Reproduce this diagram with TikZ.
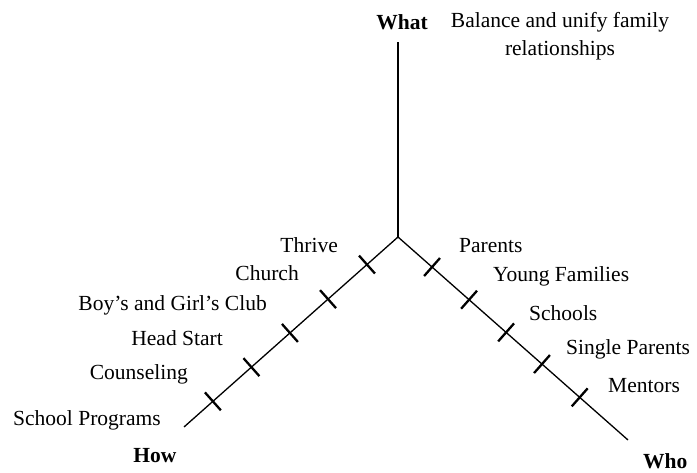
\documentclass[tikz,border=0pt]{standalone}
\usepackage{fontspec}
\setmainfont{Liberation Serif}
\usepackage{tikz}
\usetikzlibrary{positioning, calc}

\tikzset{
  axis/.style={line width=1.3bp},
  tickmark/.style={line width=2.3bp},
  lbl/.style={inner sep=0pt, font=\fontsize{21.6}{28}\selectfont},
  head/.style={lbl, font=\fontsize{21.6}{28}\selectfont\bfseries}
}

\begin{document}
\begin{tikzpicture}[x=1bp, y=1bp]
  \useasboundingbox (0,0) rectangle (697,473);

  % Axes
  \coordinate (o) at (398,236);
  \coordinate (top) at (398,431);
  \coordinate (howend) at (184,46);
  \coordinate (whoend) at (628,33);
  \draw[axis] (o) -- (top);
  \draw[axis] (o) -- (howend);
  \draw[axis] (o) -- (whoend);

  % Tick positions
  \path (o) -- (howend) coordinate[pos=0.145] (h1) coordinate[pos=0.327] (h2)
    coordinate[pos=0.505] (h3) coordinate[pos=0.685] (h4) coordinate[pos=0.865] (h5);
  \path (o) -- (whoend) coordinate[pos=0.148] (w1) coordinate[pos=0.309] (w2)
    coordinate[pos=0.470] (w3) coordinate[pos=0.626] (w4) coordinate[pos=0.790] (w5);

  \draw[tickmark] ($(h1)!12bp!90:(o)$) -- ($(h1)!12bp!-90:(o)$);
  \draw[tickmark] ($(h2)!12bp!90:(o)$) -- ($(h2)!12bp!-90:(o)$);
  \draw[tickmark] ($(h3)!12bp!90:(o)$) -- ($(h3)!12bp!-90:(o)$);
  \draw[tickmark] ($(h4)!12bp!90:(o)$) -- ($(h4)!12bp!-90:(o)$);
  \draw[tickmark] ($(h5)!12bp!90:(o)$) -- ($(h5)!12bp!-90:(o)$);
  \draw[tickmark] ($(w1)!12bp!90:(o)$) -- ($(w1)!12bp!-90:(o)$);
  \draw[tickmark] ($(w2)!12bp!90:(o)$) -- ($(w2)!12bp!-90:(o)$);
  \draw[tickmark] ($(w3)!12bp!90:(o)$) -- ($(w3)!12bp!-90:(o)$);
  \draw[tickmark] ($(w4)!12bp!90:(o)$) -- ($(w4)!12bp!-90:(o)$);
  \draw[tickmark] ($(w5)!12bp!90:(o)$) -- ($(w5)!12bp!-90:(o)$);

  % Top
  \node (what) [head] at (402,451) {What};
  \node (goal) [lbl, align=center] at (560,437) {Balance and unify family\\relationships};

  % How side
  \node (how1) [lbl, anchor=east] at (338,228) {Thrive};
  \node (how2) [lbl, anchor=east] at (299,200) {Church};
  \node (how3) [lbl, anchor=east] at (267,168) {Boy’s and Girl’s Club};
  \node (how4) [lbl, anchor=east] at (223,135) {Head Start};
  \node (how5) [lbl, anchor=east] at (188,99) {Counseling};
  \node (how6) [lbl, anchor=east] at (161,53) {School Programs};
  \node (how) [head] at (155,17) {How};

  % Who side
  \node (who1) [lbl, anchor=west] at (459,227) {Parents};
  \node (who2) [lbl, anchor=west] at (493,197) {Young Families};
  \node (who3) [lbl, anchor=west] at (529,160) {Schools};
  \node (who4) [lbl, anchor=west] at (566,124) {Single Parents};
  \node (who5) [lbl, anchor=west] at (608,87) {Mentors};
  \node (who) [head, anchor=south west] at (643,4) {Who};
\end{tikzpicture}
\end{document}
